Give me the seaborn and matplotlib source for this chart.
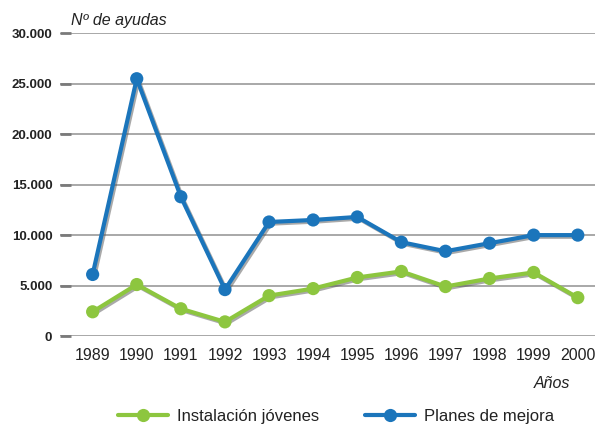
import pandas as pd
import matplotlib
matplotlib.use("Agg")
import matplotlib.pyplot as plt
import matplotlib.patheffects as pe
from matplotlib.ticker import FuncFormatter
import seaborn as sns

sns.set_theme(style="white")
plt.rcParams['font.family'] = ['Liberation Sans', 'DejaVu Sans']

years = [1989, 1990, 1991, 1992, 1993, 1994, 1995, 1996, 1997, 1998, 1999, 2000]
jovenes = [2400, 5100, 2700, 1400, 4000, 4700, 5800, 6400, 4900, 5700, 6300, 3800]
mejora = [6100, 25500, 13800, 4600, 11300, 11500, 11800, 9300, 8400, 9200, 10000, 10000]
y_ticks = [0, 5000, 10000, 15000, 20000, 25000, 30000]

green = '#8dc63f'
blue = '#1b75bb'

data = pd.DataFrame({'Año': years, 'jovenes': jovenes, 'mejora': mejora})

fig = plt.figure(figsize=(5.95, 4.25), dpi=100)
ax = fig.add_axes([60 / 595, 0.2094, 1 - 60 / 595, 0.7122])

shadow = [pe.SimpleLineShadow(offset=(1.2, -1.2), shadow_color='#555555', alpha=0.5), pe.Normal()]
sns.lineplot(x='Año', y='jovenes', data=data, color=green, marker='o', markersize=9.5,
             markeredgewidth=0, linewidth=3, label='Instalación jóvenes', ax=ax,
             path_effects=shadow, clip_on=False, zorder=3)
sns.lineplot(x='Año', y='mejora', data=data, color=blue, marker='o', markersize=9.5,
             markeredgewidth=0, linewidth=3, label='Planes de mejora', ax=ax,
             path_effects=shadow, clip_on=False, zorder=4)

ax.set_xlim(1988.26, 2000.39)
ax.set_ylim(0, 30000)
ax.set_xticks(years)
ax.set_yticks(y_ticks)
ax.yaxis.set_major_formatter(FuncFormatter(lambda v, p: f"{int(v):,}".replace(',', '.')))
for s in ax.spines.values():
    s.set_visible(False)
ax.grid(axis='y', color='#9a9a9a', linewidth=1.2)
ax.grid(axis='x', visible=False)
ax.tick_params(axis='y', direction='in', length=8, width=2, color='#7a7a7a', pad=5.5,
               labelsize=9.5, left=True)
ax.tick_params(axis='x', length=0, pad=8.5, labelsize=11.5, labelcolor='#222222')
for lbl in ax.get_yticklabels():
    lbl.set_fontweight('bold')
    lbl.set_color('#222222')
ax.set_xlabel('')
ax.set_ylabel('')

fig.text(71 / 595, 1 - 20 / 425, 'Nº de ayudas', fontsize=11.5, style='italic',
         color='#222222', va='center', ha='left')
fig.text(570 / 595, 1 - 383 / 425, 'Años', fontsize=11.5, style='italic',
         color='#222222', va='center', ha='right')

leg = ax.legend(loc='center', bbox_to_anchor=(336 / 595, 9 / 425), bbox_transform=fig.transFigure,
                ncol=2, frameon=False, fontsize=12, handlelength=3.0, columnspacing=2.8,
                handletextpad=0.5, labelcolor='#222222')
for h in leg.legend_handles:
    h.set_path_effects([])

fig.savefig('out.png', dpi=100)
